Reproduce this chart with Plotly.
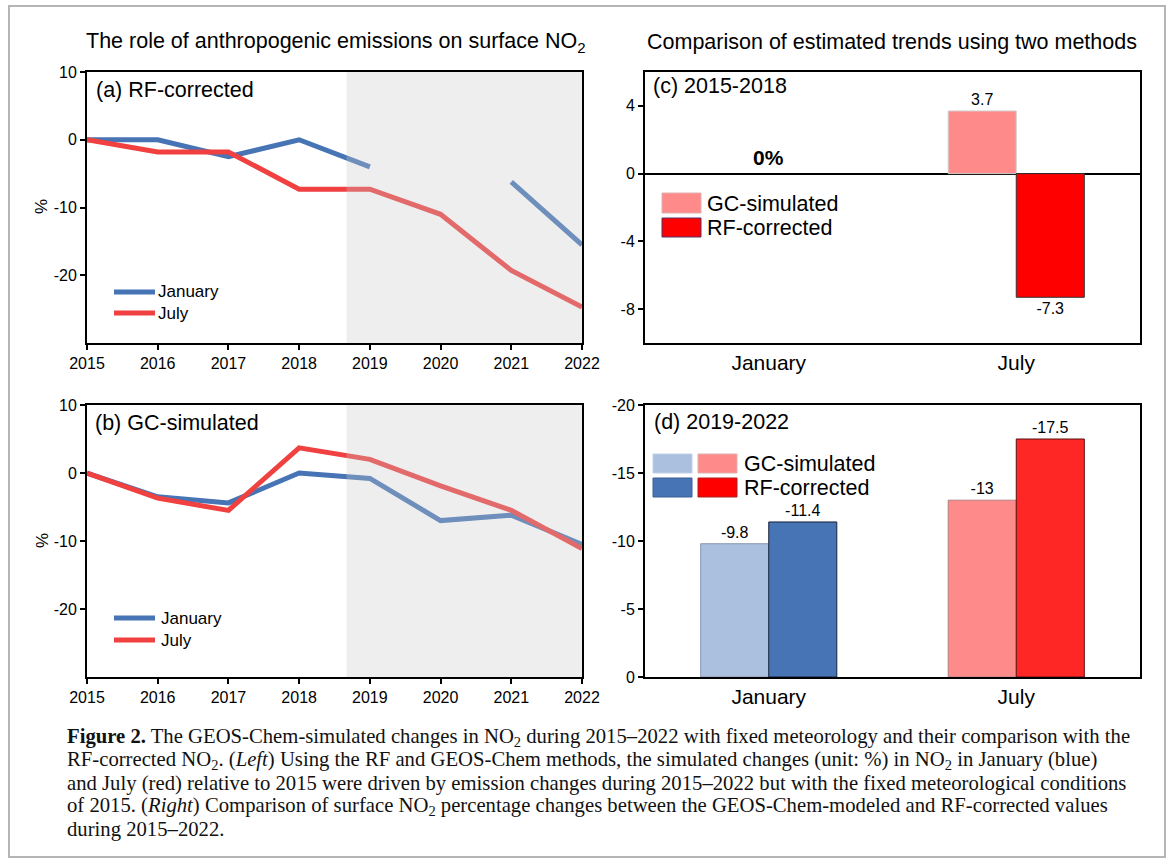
import plotly.graph_objects as go

# ---------------- data ----------------
YEARS = [2015, 2016, 2017, 2018, 2019, 2020, 2021, 2022]
RF_JAN = [0, 0, -2.5, 0, -4.0, None, -6.2, -15.5]
RF_JUL = [0, -1.8, -1.8, -7.3, -7.3, -11.0, -19.3, -24.7]
GC_JAN = [0, -3.5, -4.4, 0, -0.8, -7.0, -6.2, -10.5]
GC_JUL = [0, -3.7, -5.5, 3.7, 2.0, -1.9, -5.5, -11.1]
SHADE_START = 2018.67

MONTHS = ["January", "July"]
P1518_GC = [0, 3.7]
P1518_RF = [0, -7.3]
P1922_GC = [-9.8, -13]
P1922_RF = [-11.4, -17.5]

YT_LINE = [10, 0, -10, -20]
YT_C = [4, 0, -4, -8]
YT_D = [-20, -15, -10, -5, 0]

# ---------------- styling ----------------
W, H = 1168, 863
FONT = "Liberation Sans, Arial, sans-serif"
SERIF = "Liberation Serif, Times New Roman, serif"
BLUE = "#4674b5"
RED = "#f04040"
LBLUE = "#abc0de"
PINK = "#ff8a8a"
RED_C = "#ff0000"
RED_D = "#ff2626"


def X(px):
    return px / W


def Y(py):
    return 1 - py / H


def fmt(v):
    return None if v == 0 else f"{v:g}"


def labels(vals):
    return [f"{v:g}" for v in vals]


def lw(vals):
    return [0 if v == 0 else 1 for v in vals]


fig = go.Figure()

# line panels
fig.add_trace(go.Scatter(x=YEARS, y=RF_JAN, mode="lines", line=dict(color=BLUE, width=5),
                         xaxis="x", yaxis="y", showlegend=False))
fig.add_trace(go.Scatter(x=YEARS, y=RF_JUL, mode="lines", line=dict(color=RED, width=5),
                         xaxis="x", yaxis="y", showlegend=False))
fig.add_trace(go.Scatter(x=YEARS, y=GC_JAN, mode="lines", line=dict(color=BLUE, width=5),
                         xaxis="x2", yaxis="y2", showlegend=False))
fig.add_trace(go.Scatter(x=YEARS, y=GC_JUL, mode="lines", line=dict(color=RED, width=5),
                         xaxis="x2", yaxis="y2", showlegend=False))

# bar panel c
fig.add_trace(go.Bar(x=[0, 1], y=P1518_GC,
                     marker=dict(color=PINK, line=dict(color="#d0d0d0", width=lw(P1518_GC))),
                     text=[fmt(v) for v in P1518_GC], textposition="outside",
                     textfont=dict(size=16, color="black", family=FONT),
                     xaxis="x3", yaxis="y3", showlegend=False, cliponaxis=False))
fig.add_trace(go.Bar(x=[0, 1], y=P1518_RF,
                     marker=dict(color=RED_C, line=dict(color="#333333", width=lw(P1518_RF))),
                     text=[fmt(v) for v in P1518_RF], textposition="outside",
                     textfont=dict(size=16, color="black", family=FONT),
                     xaxis="x3", yaxis="y3", showlegend=False, cliponaxis=False))
# bar panel d
fig.add_trace(go.Bar(x=[0, 1], y=P1922_GC,
                     marker=dict(color=[LBLUE, PINK], line=dict(color=["#8797b3", "#b08080"], width=1)),
                     text=[fmt(v) for v in P1922_GC], textposition="outside",
                     textfont=dict(size=16, color="black", family=FONT),
                     xaxis="x4", yaxis="y4", showlegend=False, cliponaxis=False))
fig.add_trace(go.Bar(x=[0, 1], y=P1922_RF,
                     marker=dict(color=[BLUE, RED_D], line=dict(color=["#1a2238", "#5a1010"], width=1)),
                     text=[fmt(v) for v in P1922_RF], textposition="outside",
                     textfont=dict(size=16, color="black", family=FONT),
                     xaxis="x4", yaxis="y4", showlegend=False, cliponaxis=False))

ax_common = dict(showline=True, mirror=True, linecolor="black", linewidth=2, showgrid=False,
                 zeroline=False, ticks="outside", ticklen=5, tickwidth=2, tickcolor="black",
                 automargin=False, tickfont=dict(size=16, family=FONT, color="black"))

dom_left = [X(87), X(582)]
dom_right = [X(645), X(1140)]
dom_top = [Y(343), Y(72)]
dom_bot = [Y(677), Y(405)]

fig.update_layout(
    template="none",
    width=W, height=H, margin=dict(l=0, r=0, t=0, b=0, pad=0, autoexpand=False),
    paper_bgcolor="white", plot_bgcolor="white",
    barmode="group", bargap=0.45, bargroupgap=0,
    font=dict(family=FONT, color="black"),
    xaxis=dict(ax_common, domain=dom_left, anchor="y", range=[2015, 2022], tickvals=YEARS,
               ticktext=labels(YEARS)),
    yaxis=dict(ax_common, domain=dom_top, anchor="x", range=[-30, 10], tickvals=YT_LINE,
               ticktext=labels(YT_LINE)),
    xaxis2=dict(ax_common, domain=dom_left, anchor="y2", range=[2015, 2022], tickvals=YEARS,
                ticktext=labels(YEARS)),
    yaxis2=dict(ax_common, domain=dom_bot, anchor="x2", range=[-30, 10], tickvals=YT_LINE,
                ticktext=labels(YT_LINE)),
    xaxis3=dict(ax_common, domain=dom_right, anchor="y3", range=[-0.5, 1.5], tickvals=[0, 1],
                ticktext=MONTHS, ticks="", tickfont=dict(size=21, family=FONT, color="black")),
    yaxis3=dict(ax_common, domain=dom_top, anchor="x3", range=[-10, 6], tickvals=YT_C,
                ticktext=labels(YT_C), zeroline=True, zerolinecolor="black", zerolinewidth=2),
    xaxis4=dict(ax_common, domain=dom_right, anchor="y4", range=[-0.5, 1.5], tickvals=[0, 1],
                ticktext=MONTHS, ticks="", tickfont=dict(size=21, family=FONT, color="black")),
    yaxis4=dict(ax_common, domain=dom_bot, anchor="x4", range=[0, -20], tickvals=YT_D,
                ticktext=labels(YT_D)),
)

shapes = []
# shaded period
for xr, yr in [("x", "y"), ("x2", "y2")]:
    shapes.append(dict(type="rect", xref=xr, yref=yr, x0=SHADE_START, x1=2022, y0=-30, y1=10,
                       fillcolor="rgba(200,200,200,0.31)", line=dict(width=0), layer="above"))
# outer frame
shapes.append(dict(type="rect", xref="paper", yref="paper", x0=X(9), x1=X(1165), y0=Y(857), y1=Y(6),
                   line=dict(color="#b5b5b5", width=2), fillcolor="rgba(0,0,0,0)", layer="below"))

# legends for line panels
for yj, yl in [(292, 313), (618, 640)]:
    shapes.append(dict(type="line", xref="paper", yref="paper", x0=X(114), x1=X(155), y0=Y(yj), y1=Y(yj),
                       line=dict(color=BLUE, width=5)))
    shapes.append(dict(type="line", xref="paper", yref="paper", x0=X(114), x1=X(155), y0=Y(yl), y1=Y(yl),
                       line=dict(color=RED, width=5)))


def swatch(x0, x1, y0, y1, col, lc):
    shapes.append(dict(type="rect", xref="paper", yref="paper", x0=X(x0), x1=X(x1), y0=Y(y1), y1=Y(y0),
                       fillcolor=col, line=dict(color=lc, width=1)))


swatch(662, 701, 193, 213, PINK, "#e0b0b0")
swatch(662, 701, 218, 237, RED_C, "#553366")
swatch(653, 692, 454, 473, LBLUE, "#c0d0e8")
swatch(698, 737, 454, 473, PINK, "#e0b0b0")
swatch(653, 692, 478, 497, BLUE, "#3a5f95")
swatch(698, 737, 478, 497, RED_C, "#aa2020")

fig.update_layout(shapes=shapes)

ann = []


def txt(text, x, y, size, xanchor="left", yanchor="middle", family=FONT, angle=0, color="black"):
    ann.append(dict(text=text, x=X(x), y=Y(y), xref="paper", yref="paper", showarrow=False,
                    xanchor=xanchor, yanchor=yanchor, textangle=angle,
                    font=dict(size=size, family=family, color=color)))


txt("The role of anthropogenic emissions on surface NO<sub>2</sub>", 336, 42, 21.5, xanchor="center")
txt("Comparison of estimated trends using two methods", 892, 42, 21.5, xanchor="center")
txt("(a) RF-corrected", 94, 90, 21.5)
txt("(b) GC-simulated", 93, 423, 21.5)
txt("(c) 2015-2018", 651, 86, 21.5)
txt("(d) 2019-2022", 652, 422, 21.5)
txt("%", 42, 207, 17, xanchor="center", angle=-90)
txt("%", 42, 541, 17, xanchor="center", angle=-90)
txt("January", 156, 292, 17)
txt("July", 156, 313, 17)
txt("January", 159, 618, 17)
txt("July", 159, 640, 17)
txt("GC-simulated", 705, 204, 21.5)
txt("RF-corrected", 705, 228, 21.5)
txt("GC-simulated", 742, 464, 21.5)
txt("RF-corrected", 742, 488, 21.5)

# 0% marker at January in panel c
ann.append(dict(text="<b>0%</b>", x=0, y=0, xref="x3", yref="y3", showarrow=False,
                yanchor="bottom", yshift=3, font=dict(size=21, family=FONT, color="black")))

CAPTION = [
    "<b>Figure 2.</b> The GEOS-Chem-simulated changes in NO<sub>2</sub> during 2015–2022 with fixed meteorology and their comparison with the",
    "RF-corrected NO<sub>2</sub>. (<i>Left</i>) Using the RF and GEOS-Chem methods, the simulated changes (unit: %) in NO<sub>2</sub> in January (blue)",
    "and July (red) relative to 2015 were driven by emission changes during 2015–2022 but with the fixed meteorological conditions",
    "of 2015. (<i>Right</i>) Comparison of surface NO<sub>2</sub> percentage changes between the GEOS-Chem-modeled and RF-corrected values",
    "during 2015–2022.",
]
for i, line in enumerate(CAPTION):
    txt(line, 65, 737 + 23 * i, 20.7, family=SERIF, color="#111111")

fig.update_layout(annotations=ann)

fig.write_html("out.html", config={"displayModeBar": False},
               post_script="document.body.style.margin='0';document.body.style.overflow='hidden';")
